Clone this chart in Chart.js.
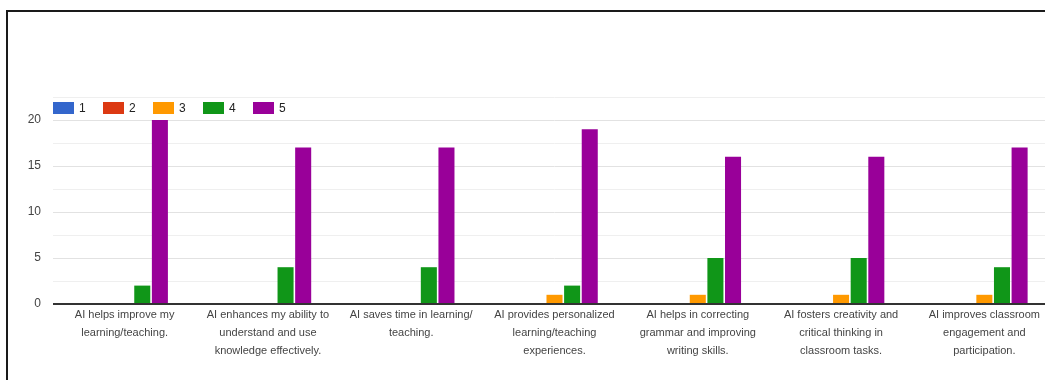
<!DOCTYPE html>
<html>
<head>
<meta charset="utf-8">
<script src="https://cdn.jsdelivr.net/npm/chart.js@4.4.1/dist/chart.umd.min.js"></script>
<style>
  html, body { margin: 0; padding: 0; background: #fff; overflow: hidden; }
  .wrap { position: relative; width: 1045px; height: 380px; overflow: hidden; }
  .frame { position: absolute; left: 6px; top: 10px; width: 1100px; height: 400px;
           border-top: 2px solid #1a1a1a; border-left: 2px solid #1a1a1a; pointer-events: none; }
  canvas { position: absolute; left: 0; top: 0; }
</style>
</head>
<body>
<div class="wrap">
  <canvas class="myChart" width="1060" height="380"></canvas>
  <div class="frame"></div>
</div>
<script>
// data
var categories = [
  ["AI helps improve my", "learning/teaching."],
  ["AI enhances my ability to", "understand and use", "knowledge effectively."],
  ["AI saves time in learning/", "teaching."],
  ["AI provides personalized", "learning/teaching", "experiences."],
  ["AI helps in correcting", "grammar and improving", "writing skills."],
  ["AI fosters creativity and", "critical thinking in", "classroom tasks."],
  ["AI improves classroom", "engagement and", "participation."]
];
var seriesNames = ["1", "2", "3", "4", "5"];
var rating1 = [0, 0, 0, 0, 0, 0, 0];
var rating2 = [0, 0, 0, 0, 0, 0, 0];
var rating3 = [0, 0, 0, 1, 1, 1, 1];
var rating4 = [2, 4, 4, 2, 5, 5, 4];
var rating5 = [20, 17, 17, 19, 16, 16, 17];
var yLabels = [0, 5, 10, 15, 20];

var colors = ["#3366cc", "#dc3912", "#ff9900", "#109618", "#990099"];
var allData = [rating1, rating2, rating3, rating4, rating5];
var fontFam = 'Arial, "Liberation Sans", sans-serif';

var datasets = [];
for (let i = 0; i < seriesNames.length; i++) {
  datasets.push({
    label: seriesNames[i],
    data: allData[i],
    backgroundColor: colors[i],
    borderWidth: 0,
    categoryPercentage: 0.615,
    barPercentage: 0.91
  });
}

// legend drawn inside the top of the plot area (built-in one can't go there in a row)
var insideLegend = {
  id: "insideLegend",
  afterDraw: function (chart) {
    var c = chart.ctx;
    var area = chart.chartArea;
    var x = area.left;
    var y = area.top + 5;
    c.save();
    c.font = "12px " + fontFam;
    c.textBaseline = "middle";
    c.textAlign = "left";
    chart.data.datasets.forEach(function (ds) {
      c.fillStyle = ds.backgroundColor;
      c.fillRect(x, y, 21, 12);
      c.fillStyle = "#222";
      c.fillText(ds.label, x + 26, y + 6.5);
      x += 50;
    });
    c.restore();
  }
};

var ctx = document.querySelector(".myChart").getContext("2d");
var chart = new Chart(ctx, {
  type: "bar",
  data: {
    labels: categories,
    datasets: datasets
  },
  plugins: [insideLegend],
  options: {
    responsive: false,
    animation: false,
    layout: { padding: { top: 97, right: 4, left: 0, bottom: 0 } },
    plugins: {
      tooltip: { enabled: false },
      legend: { display: false }
    },
    scales: {
      x: {
        grid: { display: false, drawTicks: false },
        border: { display: false },
        ticks: {
          color: "#444",
          padding: 2,
          autoSkip: false,
          maxRotation: 0,
          font: { family: fontFam, size: 11, lineHeight: 1.64 }
        },
        afterFit: function (scale) { scale.height = 76; }
      },
      y: {
        min: 0,
        max: 22.5,
        border: { display: false },
        grid: {
          drawTicks: false,
          color: function (c) {
            var v = c.tick.value;
            if (v === 0) return "#333";
            return v % 5 === 0 ? "#e2e2e2" : "#efefef";
          },
          lineWidth: function (c) { return c.tick.value === 0 ? 2 : 1; }
        },
        ticks: {
          stepSize: 2.5,
          padding: 12,
          color: "#444",
          font: { family: fontFam, size: 12 },
          callback: function (v) {
            return yLabels.indexOf(v) === -1 ? "" : String(v);
          }
        },
        afterFit: function (scale) { scale.width = 53; }
      }
    }
  }
});
</script>
</body>
</html>
